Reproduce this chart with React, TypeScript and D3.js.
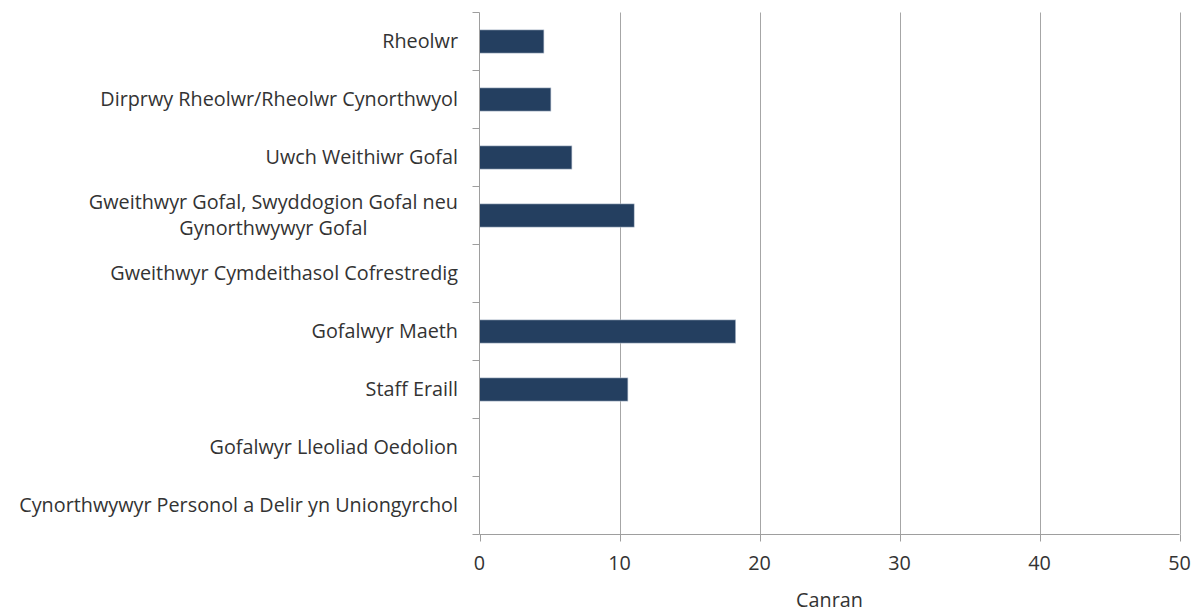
import React, { useRef, useEffect } from 'react';
import * as d3 from 'd3';

// roles (Welsh), top to bottom
const roles = [
  'Rheolwr',
  'Dirprwy Rheolwr/Rheolwr Cynorthwyol',
  'Uwch Weithiwr Gofal',
  'Gweithwyr Gofal, Swyddogion Gofal neu|Gynorthwywyr Gofal',
  'Gweithwyr Cymdeithasol Cofrestredig',
  'Gofalwyr Maeth',
  'Staff Eraill',
  'Gofalwyr Lleoliad Oedolion',
  'Cynorthwywyr Personol a Delir yn Uniongyrchol',
];
const percent = [4.6, 5.1, 6.6, 11.05, 0, 18.3, 10.6, 0, 0];
const xTicks = [0, 10, 20, 30, 40, 50];
const xTitle = 'Canran';

export default function App() {
  const ref = useRef<SVGSVGElement>(null);

  useEffect(() => {
    const width = 1197;
    const height = 612;
    const left = 479.5;
    const right = 1179.5;
    const top = 12.5;
    const bottom = 534.5;
    const font = 'Open Sans, Noto Sans, sans-serif';
    const fs = 19.8;

    const svg = d3.select(ref.current);
    svg.selectAll('*').remove();
    svg.attr('width', width).attr('height', height);

    const x = d3.scaleLinear().domain([0, 50]).range([left, right]);
    const y = d3.scaleBand<number>().domain(d3.range(roles.length)).range([top, bottom]).paddingInner(0.6).paddingOuter(0.3);
    const band = (bottom - top) / roles.length;

    // gridlines
    svg.append('g')
      .selectAll('line')
      .data(xTicks.slice(1))
      .enter()
      .append('line')
      .attr('x1', d => Math.round(x(d)) + 0.5)
      .attr('x2', d => Math.round(x(d)) + 0.5)
      .attr('y1', top)
      .attr('y2', bottom)
      .attr('stroke', '#a6a6a6')
      .attr('stroke-width', 1);

    // bars
    svg.append('g')
      .selectAll('rect')
      .data(percent.map((v, i) => ({ v, i })).filter(d => d.v > 0))
      .enter()
      .append('rect')
      .attr('x', x(0))
      .attr('y', d => y(d.i)!)
      .attr('width', d => x(d.v) - x(0))
      .attr('height', y.bandwidth())
      .attr('fill', '#243f60')
      .attr('stroke', '#b9c4d2')
      .attr('stroke-width', 0.6);

    const axisColor = '#9e9e9e';
    // y axis line + ticks
    svg.append('line')
      .attr('x1', left).attr('x2', left).attr('y1', top).attr('y2', bottom)
      .attr('stroke', axisColor);
    svg.append('g')
      .selectAll('line')
      .data(d3.range(roles.length + 1))
      .enter()
      .append('line')
      .attr('x1', left - 7).attr('x2', left)
      .attr('y1', i => top + i * band)
      .attr('y2', i => top + i * band)
      .attr('stroke', axisColor);

    // x axis
    svg.append('line')
      .attr('x1', left).attr('x2', right).attr('y1', bottom).attr('y2', bottom)
      .attr('stroke', axisColor);
    svg.append('g')
      .selectAll('line')
      .data(xTicks)
      .enter()
      .append('line')
      .attr('x1', d => Math.round(x(d)) + 0.5)
      .attr('x2', d => Math.round(x(d)) + 0.5)
      .attr('y1', bottom).attr('y2', bottom + 7)
      .attr('stroke', axisColor);
    svg.append('g')
      .selectAll('text')
      .data(xTicks)
      .enter()
      .append('text')
      .attr('x', d => x(d))
      .attr('y', 570)
      .attr('text-anchor', 'middle')
      .attr('font-family', font)
      .attr('font-size', fs)
      .attr('fill', '#333')
      .text(d => d);
    svg.append('text')
      .attr('x', (left + right) / 2)
      .attr('y', 607)
      .attr('text-anchor', 'middle')
      .attr('font-family', font)
      .attr('font-size', fs)
      .attr('fill', '#333')
      .text(xTitle);

    // category labels
    const lab = svg.append('g')
      .attr('font-family', font)
      .attr('font-size', fs)
      .attr('fill', '#333');
    roles.forEach((r, i) => {
      const cy = top + (i + 0.5) * band;
      const lines = r.split('|');
      if (lines.length === 1) {
        lab.append('text')
          .attr('x', 458).attr('y', cy).attr('dy', '0.35em')
          .attr('text-anchor', 'end').text(r);
      } else {
        const t1 = lab.append('text')
          .attr('x', 458).attr('y', cy - 13).attr('dy', '0.35em')
          .attr('text-anchor', 'end').text(lines[0]);
        const w = (t1.node() as SVGTextElement).getComputedTextLength();
        lab.append('text')
          .attr('x', 458 - w / 2).attr('y', cy + 13).attr('dy', '0.35em')
          .attr('text-anchor', 'middle').text(lines[1]);
      }
    });
  }, []);

  return (
    <div style={{ position: 'absolute', left: 0, top: 0 }}>
      <svg ref={ref} style={{ display: 'block', background: '#fff' }} />
    </div>
  );
}
